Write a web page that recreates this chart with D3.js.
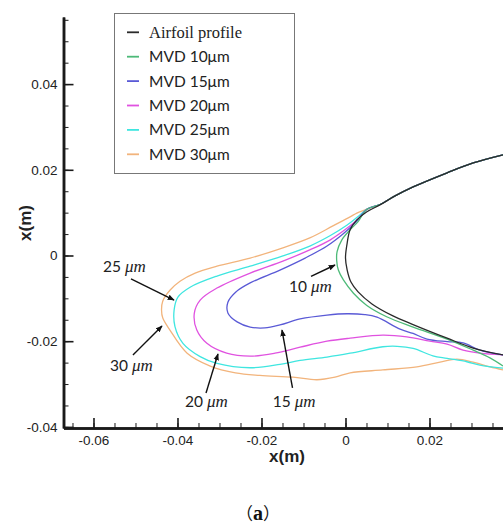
<!DOCTYPE html>
<html>
<head>
<meta charset="utf-8">
<script src="https://cdn.jsdelivr.net/npm/d3@7"></script>
<style>
  html, body { margin: 0; padding: 0; background: #fff; }
  svg { display: block; }
</style>
</head>
<body>
<svg id="chart" width="503" height="527"></svg>
<script>
// ---------------- DATA ----------------
const xTicks = [-0.06, -0.04, -0.02, 0, 0.02];
const xTickLabels = ["-0.06", "-0.04", "-0.02", "0", "0.02"];
const yTicks = [-0.04, -0.02, 0, 0.02, 0.04];
const yTickLabels = ["-0.04", "-0.02", "0", "0.02", "0.04"];
const xMinor = [-0.065,-0.06,-0.055,-0.05,-0.045,-0.04,-0.035,-0.03,-0.025,-0.02,-0.015,-0.01,-0.005,0,0.005,0.01,0.015,0.02,0.025,0.03,0.035];
const yMinor = [-0.04,-0.035,-0.03,-0.025,-0.02,-0.015,-0.01,-0.005,0,0.005,0.01,0.015,0.02,0.025,0.03,0.035,0.04,0.045,0.05,0.055];
const xDomain = [-0.06714, 0.0375];
const yDomain = [-0.04026, 0.05566];

const seriesNames = ["Airfoil profile", "MVD 10\u03bcm", "MVD 15\u03bcm", "MVD 20\u03bcm", "MVD 25\u03bcm", "MVD 30\u03bcm"];
const seriesColors = ["#2a2a2a", "#4dba78", "#5a5ad6", "#e052e0", "#3fe6e0", "#f2b47c"];

// shared upper surface where all impingement limits merge with the airfoil
const upperSurface = [[0.0375,0.0235],[0.0304,0.0216],[0.0242,0.0193],[0.0161,0.0160],[0.0118,0.0139],[0.0082,0.0119],[0.0051,0.0108]];

const airfoil = [[0.0375,0.0235],[0.0304,0.0216],[0.0242,0.0193],[0.0161,0.0160],[0.0118,0.0139],[0.0082,0.0118],
  [0.0051,0.0102],[0.0027,0.0083],[0.0011,0.0060],[0.0004,0.0029],[0.0000,-0.0006],[0.0004,-0.0034],[0.0013,-0.0062],
  [0.0030,-0.0085],[0.0063,-0.0113],[0.0113,-0.0141],[0.0158,-0.0160],[0.0242,-0.0193],[0.0304,-0.0216],[0.0375,-0.0232]];

const mvd10 = [[0.0030,0.0079],[0.0011,0.0060],[-0.0009,0.0036],[-0.0020,0.0009],[-0.0021,-0.0011],[-0.0017,-0.0034],
  [-0.0005,-0.0057],[0.0019,-0.0088],[0.0050,-0.0116],[0.0098,-0.0143],[0.0161,-0.0167],[0.0242,-0.0195],[0.0304,-0.0221],
  [0.0344,-0.0239],[0.0375,-0.0258]];

const mvd15 = [[0.0025,0.0078],[-0.0006,0.0050],[-0.0044,0.0022],[-0.0096,-0.0006],[-0.0156,-0.0034],
  [-0.0227,-0.0064],[-0.0261,-0.0085],[-0.0280,-0.0109],[-0.0280,-0.0134],
  [-0.0258,-0.0155],[-0.0227,-0.0167],[-0.0192,-0.0169],[-0.0156,-0.0162],[-0.0108,-0.0148],[-0.0044,-0.0139],
  [0.0004,-0.0136],[0.0046,-0.0138],[0.0075,-0.0144],[0.0130,-0.0172],[0.0161,-0.0182],[0.0194,-0.0195],
  [0.0242,-0.0201],[0.0280,-0.0204],[0.0320,-0.0221],[0.0375,-0.0232]];

const mvd20 = [[0.0035,0.0090],[0.0004,0.0064],[-0.0037,0.0036],[-0.0085,0.0013],[-0.0149,-0.0013],
  [-0.0227,-0.0041],[-0.0306,-0.0076],[-0.0346,-0.0104],[-0.0360,-0.0135],
  [-0.0354,-0.0174],[-0.0330,-0.0205],[-0.0283,-0.0228],[-0.0227,-0.0235],[-0.0168,-0.0228],[-0.0108,-0.0214],
  [-0.0044,-0.0200],[0.0011,-0.0193],[0.0089,-0.0186],[0.0146,-0.0190],[0.0201,-0.0200],
  [0.0242,-0.0207],[0.0280,-0.0221],[0.0320,-0.0228],[0.0375,-0.0232]];

const mvd25 = [[0.0035,0.0095],[0.0004,0.0071],[-0.0037,0.0046],[-0.0085,0.0022],[-0.0149,-0.0001],
  [-0.0227,-0.0025],[-0.0306,-0.0048],[-0.0370,-0.0074],[-0.0399,-0.0097],[-0.0408,-0.0127],[-0.0406,-0.0166],
  [-0.0387,-0.0205],[-0.0346,-0.0236],[-0.0306,-0.0252],[-0.0227,-0.0262],[-0.0156,-0.0254],
  [-0.0108,-0.0245],[-0.0044,-0.0237],[0.0011,-0.0228],[0.0089,-0.0213],[0.0123,-0.0212],[0.0161,-0.0217],
  [0.0208,-0.0234],[0.0242,-0.0240],[0.0289,-0.0248],[0.0320,-0.0256],[0.0375,-0.0263]];

const mvd30 = [[0.0027,0.0099],[0.0011,0.0090],[-0.0030,0.0069],[-0.0085,0.0041],[-0.0149,0.0018],
  [-0.0227,-0.0006],[-0.0306,-0.0025],[-0.0358,-0.0041],[-0.0394,-0.0060],[-0.0418,-0.0081],[-0.0435,-0.0106],[-0.0438,-0.0127],
  [-0.0435,-0.0146],[-0.0418,-0.0174],[-0.0377,-0.0228],[-0.0322,-0.0258],[-0.0262,-0.0274],[-0.0204,-0.0280],
  [-0.0125,-0.0284],[-0.0068,-0.0290],[-0.0025,-0.0284],[0.0011,-0.0274],[0.0089,-0.0267],[0.0170,-0.0260],
  [0.0225,-0.0249],[0.0265,-0.0242],[0.0304,-0.0249],[0.0344,-0.0260],[0.0375,-0.0267]];

// annotations: [label number, label x, label y, arrow tail x, tail y, arrow tip x, tip y] (data units)
const annotations = [
  ["25", -0.05774, -0.00385, -0.05107, -0.00548, -0.04083, -0.01039],
  ["30", -0.05607, -0.02688, -0.05060, -0.02322, -0.04369, -0.01645],
  ["20", -0.03821, -0.03536, -0.03321, -0.03209, -0.03036, -0.02298],
  ["15", -0.01733, -0.03529, -0.01262, -0.03092, -0.01512, -0.01739],
  ["10", -0.01345, -0.00845, -0.00821, -0.00490, -0.00250, -0.00222]
];
const captionText = ["\uff08", "a", "\uff09"];

// ---------------- DRAW ----------------
const svg = d3.select("#chart");
const x = d3.scaleLinear().domain(xDomain).range([63.5, 503]);
const y = d3.scaleLinear().domain(yDomain).range([428, 17]);

const defs = svg.append("defs");
defs.append("clipPath").attr("id", "clip").append("rect")
  .attr("x", 63.5).attr("y", 17).attr("width", 440).attr("height", 411);
defs.append("marker").attr("id", "arrow").attr("viewBox", "0 0 10 10")
  .attr("refX", 9).attr("refY", 5).attr("markerWidth", 7).attr("markerHeight", 7)
  .attr("markerUnits", "userSpaceOnUse").attr("orient", "auto")
  .append("path").attr("d", "M0,1 L10,5 L0,9 Z").attr("fill", "#111");

const line = d3.line().x(d => x(d[0])).y(d => y(d[1])).curve(d3.curveCatmullRom.alpha(0.5));

const curves = [airfoil, upperSurface.concat(mvd10), upperSurface.concat(mvd15), upperSurface.concat(mvd20),
                upperSurface.concat(mvd25), upperSurface.concat(mvd30)];
const drawOrder = [5, 4, 3, 2, 1, 0];
const gCurves = svg.append("g").attr("clip-path", "url(#clip)");
drawOrder.forEach(i => {
  gCurves.append("path").datum(curves[i]).attr("d", line)
    .attr("fill", "none").attr("stroke", seriesColors[i]).attr("stroke-width", 1.3);
});

// axes
const tickFont = "'Liberation Sans', Arial, sans-serif";
const xAxis = svg.append("g").attr("transform", "translate(0,428)")
  .call(d3.axisBottom(x).tickValues(xTicks).tickFormat((d, i) => xTickLabels[i]).tickSize(-10).tickSizeOuter(0).tickPadding(7));
const xAxisMinor = svg.append("g").attr("transform", "translate(0,428)")
  .call(d3.axisBottom(x).tickValues(xMinor).tickFormat("").tickSize(-5).tickSizeOuter(0));
const yAxis = svg.append("g").attr("transform", "translate(63.5,0)")
  .call(d3.axisLeft(y).tickValues(yTicks).tickFormat((d, i) => yTickLabels[i]).tickSize(-10).tickSizeOuter(0).tickPadding(6));
const yAxisMinor = svg.append("g").attr("transform", "translate(63.5,0)")
  .call(d3.axisLeft(y).tickValues(yMinor).tickFormat("").tickSize(-5).tickSizeOuter(0));

[xAxis, yAxis, xAxisMinor, yAxisMinor].forEach(g => {
  g.select(".domain").attr("stroke", "#1a1a1a").attr("stroke-width", 2.5);
  g.selectAll(".tick line").attr("stroke", "#1a1a1a").attr("stroke-width", 1.6);
  g.selectAll(".tick text").attr("font-family", tickFont).attr("font-size", 13.5).attr("fill", "#222");
});
[xAxisMinor, yAxisMinor].forEach(g => g.selectAll(".tick line").attr("stroke-width", 1));

// axis titles
svg.append("text").attr("x", 287).attr("y", 462).attr("text-anchor", "middle")
  .attr("font-family", tickFont).attr("font-weight", "bold").attr("font-size", 17).attr("fill", "#222").text("x(m)");
svg.append("text").attr("transform", "translate(31,223) rotate(-90)").attr("text-anchor", "middle")
  .attr("font-family", tickFont).attr("font-weight", "bold").attr("font-size", 17).attr("fill", "#222").text("x(m)");

// legend
const legend = svg.append("g");
legend.append("rect").attr("x", 114.5).attr("y", 13.5).attr("width", 180).attr("height", 160)
  .attr("fill", "#fff").attr("stroke", "#777").attr("stroke-width", 1);
seriesNames.forEach((name, i) => {
  const cy = 32.3 + i * 24.4;
  legend.append("line").attr("x1", 127).attr("x2", 139).attr("y1", cy).attr("y2", cy)
    .attr("stroke", seriesColors[i]).attr("stroke-width", 1.8);
  legend.append("text").attr("x", 149).attr("y", cy + 5.5)
    .attr("font-family", i === 0 ? "'Liberation Serif', serif" : "Lato, 'Open Sans', sans-serif")
    .attr("font-size", i === 0 ? 16.5 : 15.5).attr("fill", "#222").text(name);
});

// annotations
const gAnn = svg.append("g");
annotations.forEach(a => {
  gAnn.append("line").attr("x1", x(a[3])).attr("y1", y(a[4])).attr("x2", x(a[5])).attr("y2", y(a[6]))
    .attr("stroke", "#111").attr("stroke-width", 1.4).attr("marker-end", "url(#arrow)");
  const t = gAnn.append("text").attr("x", x(a[1])).attr("y", y(a[2])).attr("fill", "#222").attr("font-size", 15.5);
  t.append("tspan").attr("font-family", "Lato, sans-serif").text(a[0] + " ");
  t.append("tspan").attr("font-family", "'Liberation Serif', serif").attr("font-style", "italic").attr("font-size", 17).text("\u03bcm");
});

// caption
const cap = svg.append("text").attr("x", 258).attr("y", 520).attr("text-anchor", "middle").attr("fill", "#111");
cap.append("tspan").attr("font-family", "'Noto Sans CJK SC', sans-serif").attr("font-size", 17).text(captionText[0]);
cap.append("tspan").attr("font-family", "'Liberation Serif', serif").attr("font-weight", "bold").attr("font-size", 20).text(captionText[1]);
cap.append("tspan").attr("font-family", "'Noto Sans CJK SC', sans-serif").attr("font-size", 17).text(captionText[2]);
</script>
</body>
</html>
